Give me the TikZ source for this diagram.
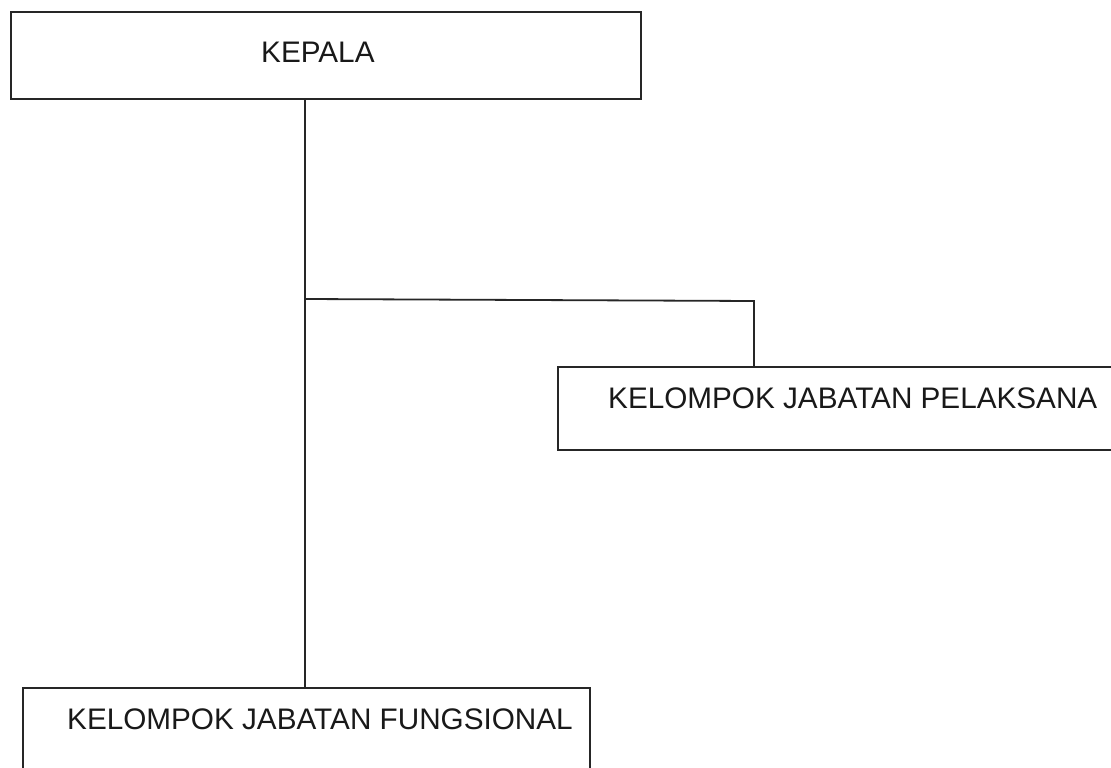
\documentclass[tikz,border=0pt]{standalone}
\usepackage{fontspec}
\setmainfont{Liberation Sans}
\begin{document}
\begin{tikzpicture}[x=1pt,y=-1pt,
  box/.style={draw=black!85, line width=1.8pt, rectangle, inner sep=0pt, outer sep=0pt},
  lbl/.style={font=\fontsize{29.7}{34}\selectfont, inner sep=0pt, anchor=base west, text=black!90},
  conn/.style={draw=black!85, line width=1.8pt}]
\useasboundingbox (0,0) rectangle (1111,768);
\fill[white] (0,0) rectangle (1111,768);
\begin{scope}
\clip (0,0) rectangle (1111,768);
\node[box, minimum width=630pt, minimum height=87pt] (kepala) at (326,55.5) {};
\node[box, minimum width=572pt, minimum height=83pt] (pel) at (844,408.5) {};
\node[box, minimum width=567pt, minimum height=102pt] (fung) at (306.5,739) {};
\node[lbl] (tk) at (261,63) {KEPALA};
\node[lbl] (tp) at (608,408) {KELOMPOK JABATAN PELAKSANA};
\node[lbl] (tf) at (67,729) {KELOMPOK JABATAN FUNGSIONAL};
\coordinate (j) at (305,299);
\coordinate (pj) at (754,301);
\draw[conn] (kepala.south -| j) -- (fung.north -| j);
\draw[conn] (j) -- (pj) -- (pj |- pel.north);
\end{scope}
\end{tikzpicture}
\end{document}
